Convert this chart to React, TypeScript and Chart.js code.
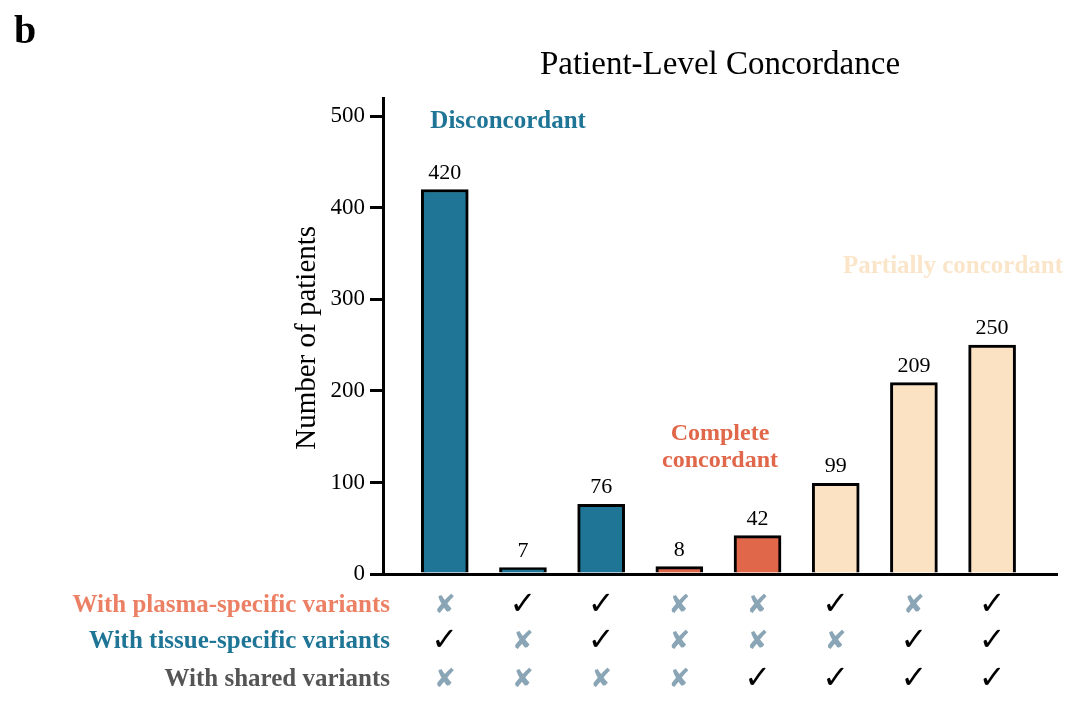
import { useEffect, useRef } from "react";
import { Chart, registerables } from "chart.js";
Chart.register(...registerables);

// bar values
const patientCounts = [420, 7, 76, 8, 42, 99, 209, 250];
const barGroups = ["dis", "dis", "dis", "comp", "comp", "part", "part", "part"];
const yTicks = [0, 100, 200, 300, 400, 500];

// presence matrix under the bars (true = check, false = cross)
const rowLabels = [
  "With plasma-specific variants",
  "With tissue-specific variants",
  "With shared variants",
];
const plasmaRow = [false, true, true, false, false, true, false, true];
const tissueRow = [true, false, true, false, false, false, true, true];
const sharedRow = [false, false, false, false, true, true, true, true];

const groupColors: Record<string, string> = {
  dis: "#1f7596",
  comp: "#e0674a",
  part: "#fbe2c3",
};
const rowColors = ["#ec8064", "#1f7596", "#555555"];

const SERIF = "'Liberation Serif', 'Times New Roman', serif";

const overlay = {
  id: "overlay",
  afterDraw(chart: Chart) {
    const { ctx, chartArea } = chart;
    const xs = chart.scales.x;
    const ys = chart.scales.y;
    ctx.save();

    // panel letter + title
    ctx.fillStyle = "#000";
    ctx.font = `bold 40px ${SERIF}`;
    ctx.textAlign = "left";
    ctx.textBaseline = "middle";
    ctx.fillText("b", 14, 33);
    ctx.font = `33px ${SERIF}`;
    ctx.textAlign = "center";
    ctx.fillText("Patient-Level Concordance", (chartArea.left + chartArea.right) / 2, 65);

    // y title
    ctx.save();
    ctx.translate(307, ys.getPixelForValue(258));
    ctx.rotate(-Math.PI / 2);
    ctx.font = `29px ${SERIF}`;
    ctx.fillText("Number of patients", 0, 0);
    ctx.restore();

    // value labels
    const meta = chart.getDatasetMeta(0);
    ctx.font = `22px ${SERIF}`;
    ctx.textBaseline = "alphabetic";
    meta.data.forEach((el: any, i) => {
      ctx.fillText(String(patientCounts[i]), el.x, el.y - 11);
    });

    // group annotations
    ctx.font = `bold 25px ${SERIF}`;
    ctx.textBaseline = "middle";
    ctx.fillStyle = groupColors.dis;
    ctx.fillText("Disconcordant", xs.getPixelForValue(0.81), ys.getPixelForValue(494));
    ctx.fillStyle = groupColors.comp;
    ctx.font = `bold 24px ${SERIF}`;
    ctx.fillText("Complete", xs.getPixelForValue(3.52), ys.getPixelForValue(153));
    ctx.fillText("concordant", xs.getPixelForValue(3.52), ys.getPixelForValue(124));
    ctx.fillStyle = "#fbe5c9";
    ctx.font = `bold 25px ${SERIF}`;
    ctx.fillText("Partially concordant", xs.getPixelForValue(6.5), ys.getPixelForValue(336));

    // matrix
    const rows = [plasmaRow, tissueRow, sharedRow];
    const rowOffsets = [32, 68, 106];
    rows.forEach((row, r) => {
      const y = chartArea.bottom + rowOffsets[r];
      ctx.textAlign = "right";
      ctx.fillStyle = rowColors[r];
      ctx.font = `bold 25px ${SERIF}`;
      ctx.fillText(rowLabels[r], chartArea.left + 7, y);
      ctx.textAlign = "center";
      row.forEach((has, i) => {
        const x = xs.getPixelForValue(i);
        if (has) {
          ctx.fillStyle = "#000";
          ctx.font = "bold 32px 'DejaVu Sans'";
          ctx.fillText("\u2713", x, y);
        } else {
          ctx.fillStyle = "#8aa5b5";
          ctx.font = "bold 26px 'DejaVu Sans'";
          ctx.fillText("\u2718", x, y);
        }
      });
    });
    ctx.restore();
  },
};

const App = () => {
  const canvasRef = useRef<HTMLCanvasElement>(null);
  const chartRef = useRef<Chart | null>(null);

  useEffect(() => {
    document.body.style.margin = "0";
    if (!canvasRef.current) return;
    if (chartRef.current) chartRef.current.destroy();

    chartRef.current = new Chart(canvasRef.current, {
      type: "bar",
      data: {
        datasets: [
          {
            data: patientCounts.map((v, i) => ({ x: i, y: v })),
            backgroundColor: barGroups.map((g) => groupColors[g]),
            borderColor: "#000",
            borderWidth: 3,
            barThickness: 47,
          },
        ],
      },
      options: {
        animation: false,
        responsive: true,
        maintainAspectRatio: false,
        layout: { padding: { left: 0, right: 23, top: 98, bottom: 132 } },
        plugins: {
          legend: { display: false },
          tooltip: { enabled: false },
        },
        scales: {
          x: {
            type: "linear",
            offset: false,
            min: -0.79,
            max: 7.83,
            ticks: { display: false },
            grid: { display: false },
            border: { display: true, color: "#000", width: 3 },
            afterFit: (s: any) => {
              s.height = 0;
            },
          },
          y: {
            min: 0,
            max: 520,
            afterBuildTicks: (s: any) => {
              s.ticks = yTicks.map((v) => ({ value: v }));
            },
            ticks: {
              color: "#000",
              padding: 5,
              font: { family: SERIF, size: 23 },
            },
            grid: {
              drawOnChartArea: false,
              drawTicks: true,
              tickLength: 13,
              color: "#000",
              lineWidth: 3,
            },
            border: { display: true, color: "#000", width: 3 },
            afterFit: (s: any) => {
              s.width = 383;
            },
          },
        },
      },
      plugins: [overlay],
    });

    return () => {
      chartRef.current?.destroy();
    };
  }, []);

  return (
    <div style={{ position: "relative", width: 1080, height: 706 }}>
      <canvas ref={canvasRef} />
    </div>
  );
};

export default App;
